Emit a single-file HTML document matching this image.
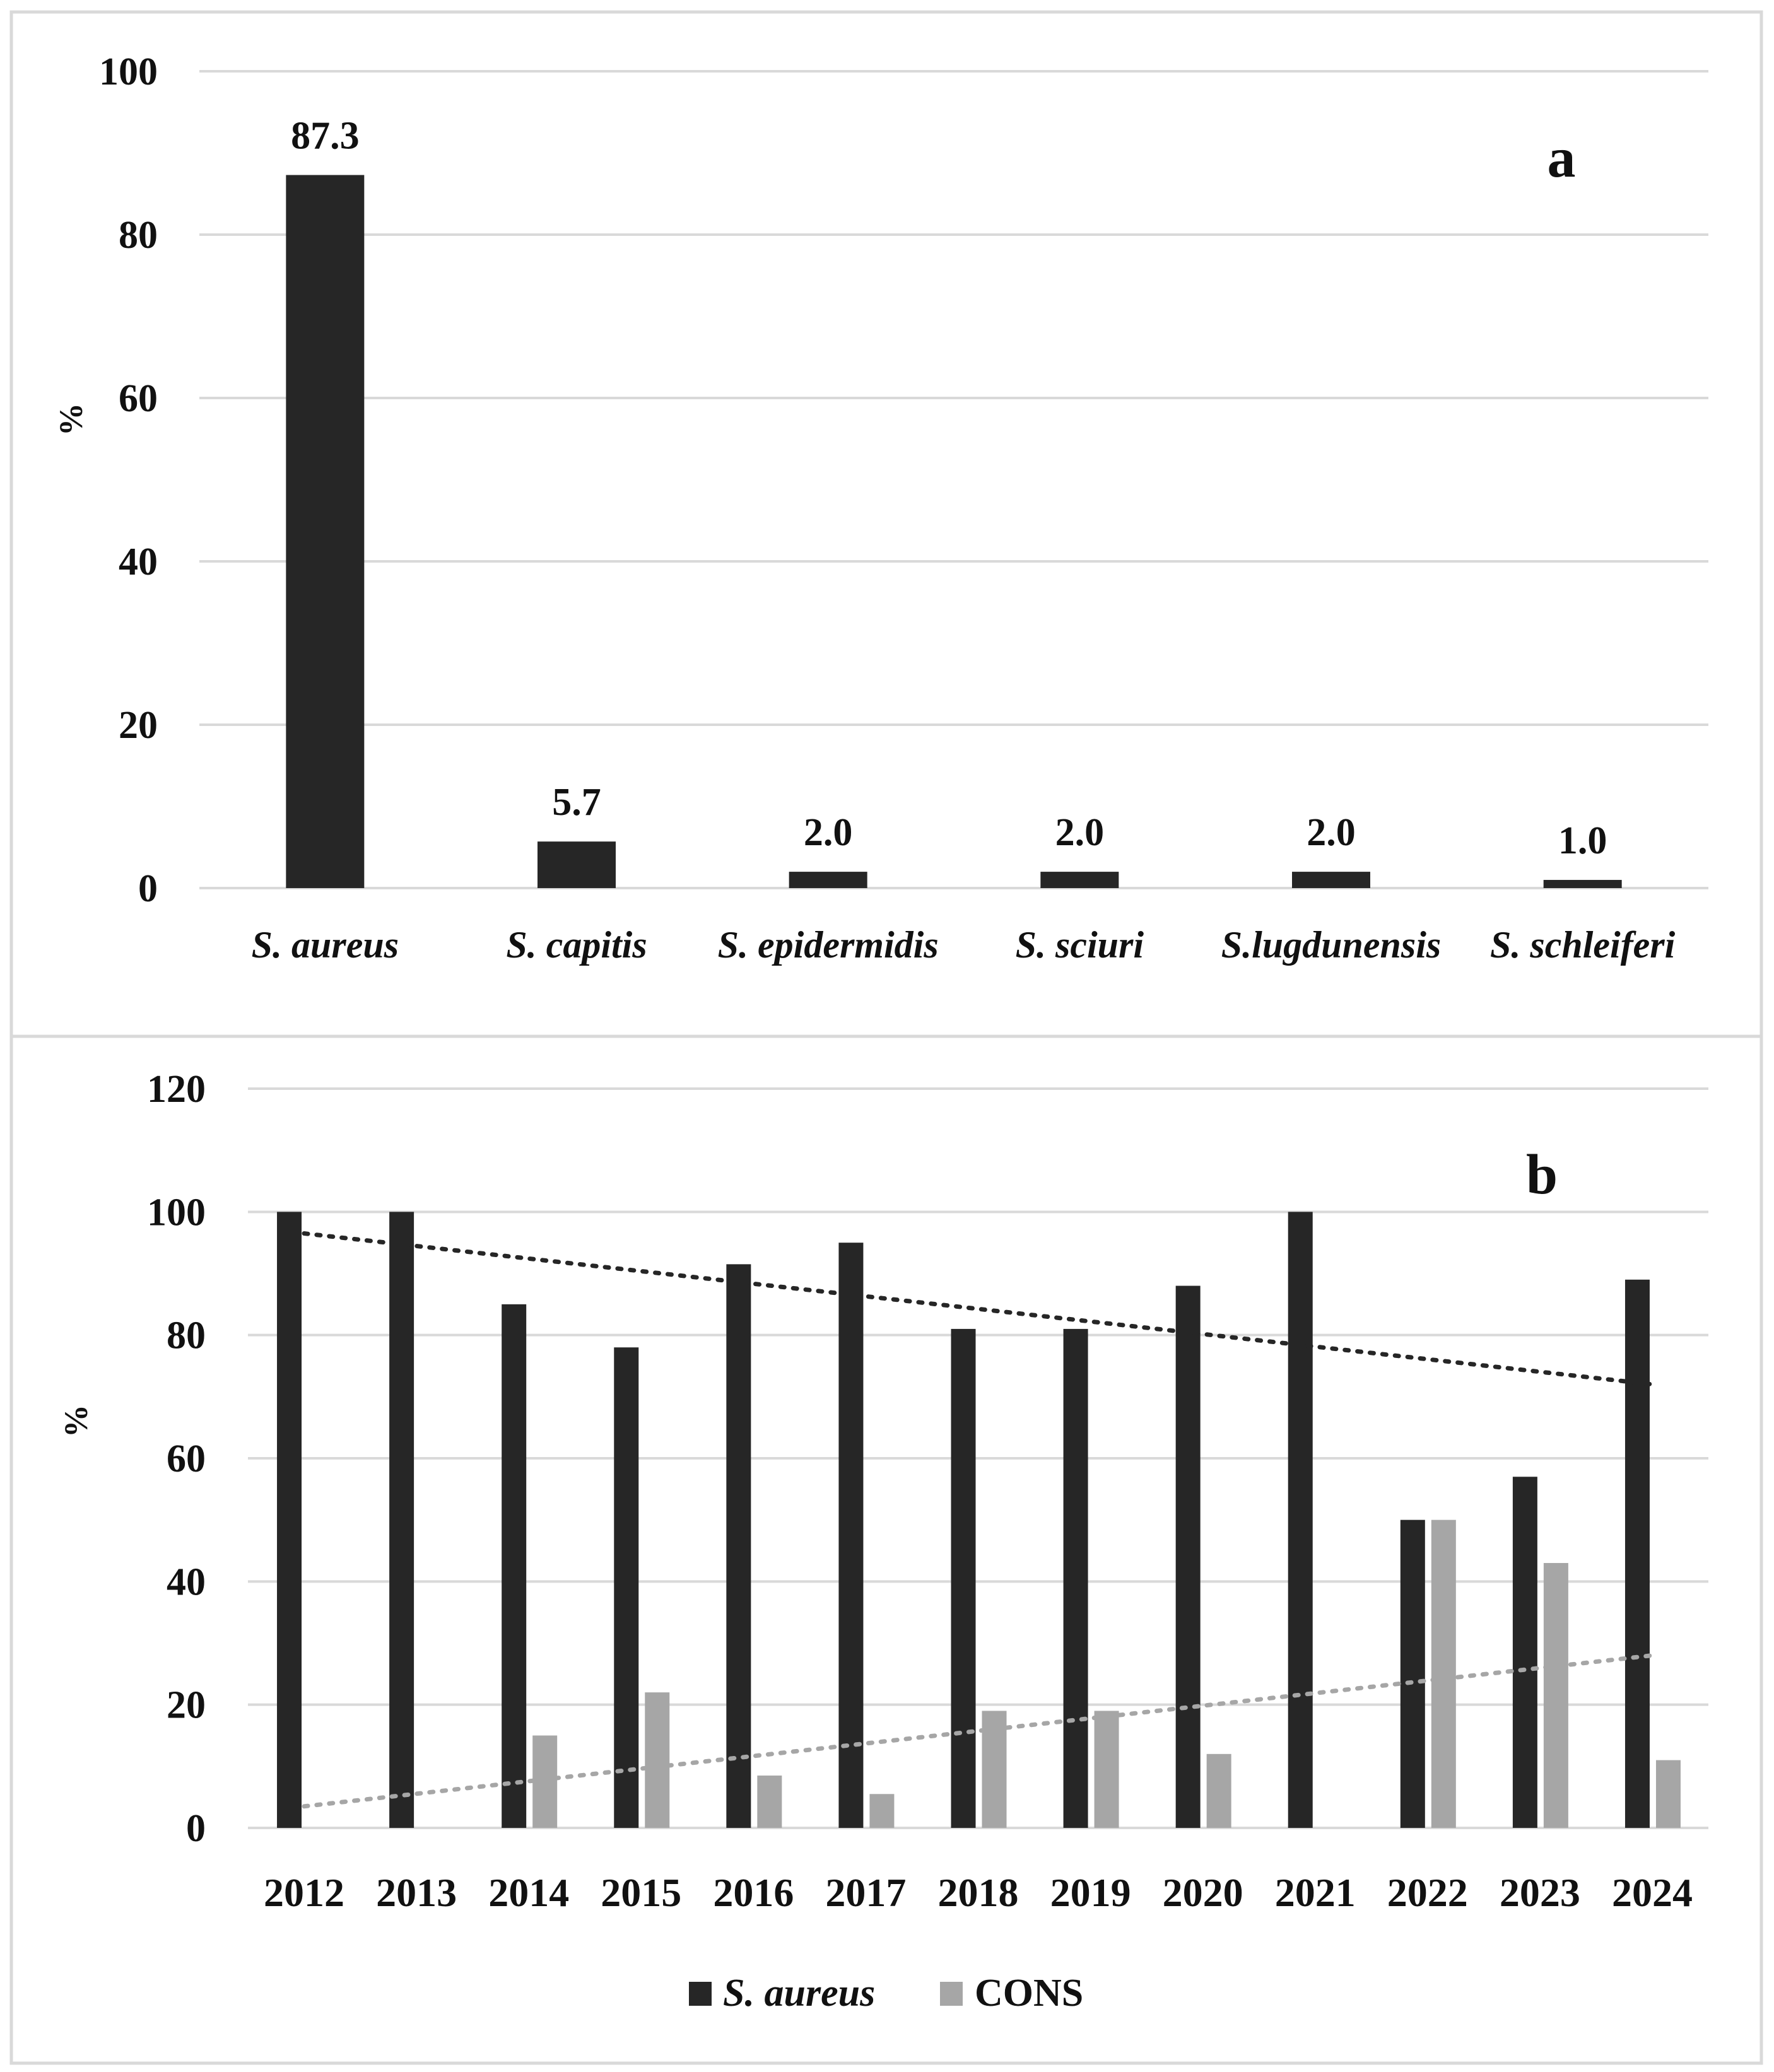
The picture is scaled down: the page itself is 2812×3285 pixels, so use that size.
<!DOCTYPE html>
<html><head><meta charset="utf-8"><style>
html,body{margin:0;padding:0;background:#fff;}
svg{display:block;}
text{font-family:"Liberation Serif",serif;font-weight:bold;fill:#111;}
</style></head><body>
<svg id="s" width="2812" height="3285" xmlns="http://www.w3.org/2000/svg">
<rect x="18" y="19" width="2774" height="1624" fill="none" stroke="#d9d9d9" stroke-width="5"/>
<rect x="18" y="1643" width="2774" height="1628" fill="none" stroke="#d9d9d9" stroke-width="5"/>
<g id="ga"></g><g id="gb"></g>
</svg>
<script>
const NS="http://www.w3.org/2000/svg";
const catsA=["S. aureus","S. capitis","S. epidermidis","S. sciuri","S.lugdunensis","S. schleiferi"];
const valsA=[87.3,5.7,2.0,2.0,2.0,1.0];
const ticksA=[0,20,40,60,80,100];
const years=["2012","2013","2014","2015","2016","2017","2018","2019","2020","2021","2022","2023","2024"];
const aureus=[100,100,85,78,91.5,95,81,81,88,100,50,57,89];
const cons=[0,0,15,22,8.5,5.5,19,19,12,0,50,43,11];
const ticksB=[0,20,40,60,80,100,120];
const trendAureus=[96.5,72];
const trendCons=[3.5,28];

function mk(tag,attrs,parent,txt){const e=document.createElementNS(NS,tag);for(const k in attrs)e.setAttribute(k,attrs[k]);if(txt!==undefined)e.textContent=txt;parent.appendChild(e);return e;}

// Panel A
const ga=document.getElementById('ga');
const aL=316,aR=2708,aY0=1408,aY100=113;
const ya=v=>aY0+(aY100-aY0)*v/100;
const bwA=(aR-aL)/catsA.length;
ticksA.forEach(t=>{
 const l=mk('line',{x1:aL,x2:aR,y1:ya(t),y2:ya(t),stroke:'#d9d9d9','stroke-width':4},ga);
 
 const tx=mk('text',{x:250,y:ya(t)+21,'text-anchor':'end','font-size':62},ga,String(t));
 
});
catsA.forEach((c,i)=>{
 const cx=aL+bwA*(i+0.5);
 const r=mk('rect',{x:cx-62,y:ya(valsA[i]),width:124,height:aY0-ya(valsA[i]),fill:'#262626'},ga);
 
 const v=mk('text',{x:cx,y:ya(valsA[i])-42,'text-anchor':'middle','font-size':62},ga,valsA[i].toFixed(1));
 
 const lb=mk('text',{x:cx,y:1518,'text-anchor':'middle','font-size':60,'font-style':'italic'},ga,c);
 
});
const ta=mk('text',{x:0,y:0,'text-anchor':'middle','font-size':52,transform:'translate(130,665) rotate(-90)'},ga,'%');

const pa=mk('text',{x:2475,y:280,'text-anchor':'middle','font-size':90},ga,'a');


// Panel B
const gb=document.getElementById('gb');
const bL=393,bR=2708,bY0=2898,bY120=1726;
const yb=v=>bY0+(bY120-bY0)*v/120;
const cw=(bR-bL)/years.length;
const xc=i=>bL+cw*(i+0.5);
ticksB.forEach(t=>{
 const l=mk('line',{x1:bL,x2:bR,y1:yb(t),y2:yb(t),stroke:'#d9d9d9','stroke-width':4},gb);
 
 const tx=mk('text',{x:326,y:yb(t)+21,'text-anchor':'end','font-size':62},gb,String(t));
 
});
years.forEach((y,i)=>{
 const cx=xc(i);
 const r1=mk('rect',{x:cx-43,y:yb(aureus[i]),width:39,height:bY0-yb(aureus[i]),fill:'#262626'},gb);
 
 if(cons[i]>0){
  const r2=mk('rect',{x:cx+6,y:yb(cons[i]),width:39,height:bY0-yb(cons[i]),fill:'#a6a6a6'},gb);
  
 }
 const lb=mk('text',{x:cx,y:3022,'text-anchor':'middle','font-size':64},gb,y);
 
});
const n=years.length-1;
const t1=mk('line',{x1:xc(0),y1:yb(trendAureus[0]),x2:xc(n),y2:yb(trendAureus[1]),stroke:'#262626','stroke-width':7,'stroke-dasharray':'6 14','stroke-linecap':'round'},gb);

const t2=mk('line',{x1:xc(0),y1:yb(trendCons[0]),x2:xc(n),y2:yb(trendCons[1]),stroke:'#a6a6a6','stroke-width':7,'stroke-dasharray':'6 14','stroke-linecap':'round'},gb);

const tb=mk('text',{x:0,y:0,'text-anchor':'middle','font-size':52,transform:'translate(138,2253) rotate(-90)'},gb,'%');

const pb=mk('text',{x:2444,y:1892,'text-anchor':'middle','font-size':90},gb,'b');

// legend
const l1=mk('rect',{x:1092,y:3142,width:36,height:38,fill:'#262626'},gb);

const l1t=mk('text',{x:1146,y:3180,'font-size':62,'font-style':'italic'},gb,'S. aureus');

const l2=mk('rect',{x:1490,y:3142,width:36,height:38,fill:'#a6a6a6'},gb);

const l2t=mk('text',{x:1545,y:3180,'font-size':62},gb,'CONS');

</script>
</body></html>
